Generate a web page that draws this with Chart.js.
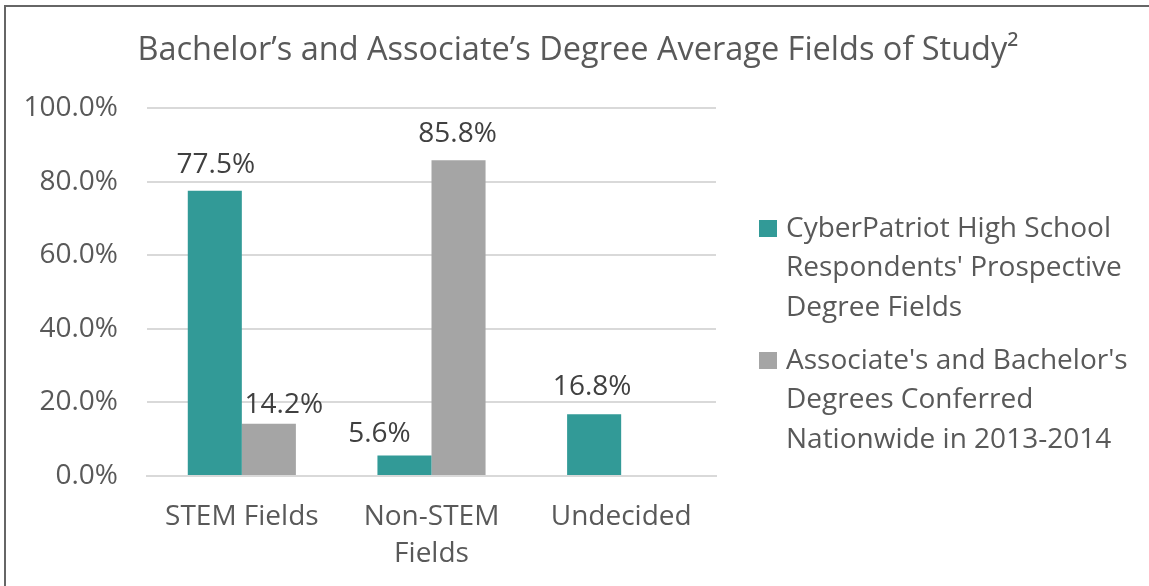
<!DOCTYPE html>
<html>
<head>
<meta charset="utf-8">
<script src="https://cdn.jsdelivr.net/npm/chart.js@4/dist/chart.umd.min.js"></script>
<style>
  html,body{margin:0;padding:0;background:#fff;}
  #wrap{position:relative;width:1149px;height:586px;overflow:hidden;}
  #frame{position:absolute;left:4px;top:5px;width:1200px;height:700px;border-top:2px solid #666;border-left:2px solid #666;pointer-events:none;}
  canvas{position:absolute;left:0;top:0;}
</style>
</head>
<body>
<div id="wrap">
  <canvas id="c" width="1149" height="586"></canvas>
  <div id="frame"></div>
</div>
<script>
const titleText = "Bachelor\u2019s and Associate\u2019s Degree Average Fields of Study\u00B2";
const categories = [["STEM Fields"], ["Non-STEM", "Fields"], ["Undecided"]];
const seriesNames = [
  ["CyberPatriot High School", "Respondents' Prospective", "Degree Fields"],
  ["Associate's and Bachelor's", "Degrees Conferred", "Nationwide in 2013-2014"]
];
const cyberPatriot = [77.5, 5.6, 16.8];
const nationwide = [14.2, 85.8, null];
const yTicks = [0, 20, 40, 60, 80, 100];
const colors = ["#329A97", "#A5A5A5"];

const FONT = "'Open Sans', sans-serif";
const TXT = "#595959";

// small manual nudges of the value labels (as placed in the original)
const labelNudge = [
  [[1, 0], [-25, 5], [-2, -1]],
  [[15, 7], [-1, 0], [0, 0]]
];

const extras = {
  id: 'extras',
  afterDraw(chart) {
    const ctx = chart.ctx;
    ctx.save();
    // title
    ctx.fillStyle = TXT;
    ctx.font = "32.5px " + FONT;
    ctx.textAlign = "center";
    ctx.textBaseline = "middle";
    ctx.fillText(titleText, 578, 51);
    // data labels
    ctx.font = "28px " + FONT;
    ctx.fillStyle = "#404040";
    ctx.textBaseline = "alphabetic";
    chart.data.datasets.forEach((ds, di) => {
      const meta = chart.getDatasetMeta(di);
      meta.data.forEach((bar, i) => {
        const v = ds.data[i];
        if (v === null || v === undefined) return;
        const n = labelNudge[di][i];
        ctx.fillText(v.toFixed(1) + "%", bar.x + n[0], bar.y - 18 + n[1]);
      });
    });
    // legend
    ctx.textAlign = "left";
    ctx.textBaseline = "middle";
    ctx.font = "28px " + FONT;
    const starts = [229, 361];
    seriesNames.forEach((lines, k) => {
      const y0 = starts[k];
      ctx.fillStyle = colors[k];
      ctx.fillRect(759, y0 - 9, 18, 17);
      ctx.fillStyle = TXT;
      lines.forEach((ln, j) => ctx.fillText(ln, 786, y0 + j * 39.5));
    });
    ctx.restore();
  }
};

new Chart(document.getElementById('c'), {
  type: 'bar',
  data: {
    labels: categories,
    datasets: [
      { label: seriesNames[0].join(' '), data: cyberPatriot, backgroundColor: colors[0], categoryPercentage: 0.57, barPercentage: 1.0 },
      { label: seriesNames[1].join(' '), data: nationwide, backgroundColor: colors[1], categoryPercentage: 0.57, barPercentage: 1.0 }
    ]
  },
  options: {
    responsive: false,
    animation: false,
    layout: { padding: { top: 108, right: 433, left: 0, bottom: 0 } },
    plugins: {
      legend: { display: false },
      title: { display: false },
      tooltip: { enabled: false }
    },
    scales: {
      x: {
        afterFit(s) { s.height = 110; },
        grid: { display: false, drawTicks: false },
        border: { display: true, color: '#D9D9D9', width: 2 },
        ticks: { color: TXT, font: { family: FONT, size: 28, lineHeight: 1.3 }, padding: 23, maxRotation: 0 }
      },
      y: {
        min: 0, max: 100,
        afterFit(s) { s.width = 147; },
        afterBuildTicks(s) { s.ticks = yTicks.map(v => ({ value: v })); },
        grid: { color: '#D9D9D9', lineWidth: 2, drawTicks: false },
        border: { display: false },
        ticks: { color: TXT, font: { family: FONT, size: 28 }, padding: 29, callback: v => v.toFixed(1) + "%" }
      }
    }
  },
  plugins: [extras]
});
</script>
</body>
</html>
